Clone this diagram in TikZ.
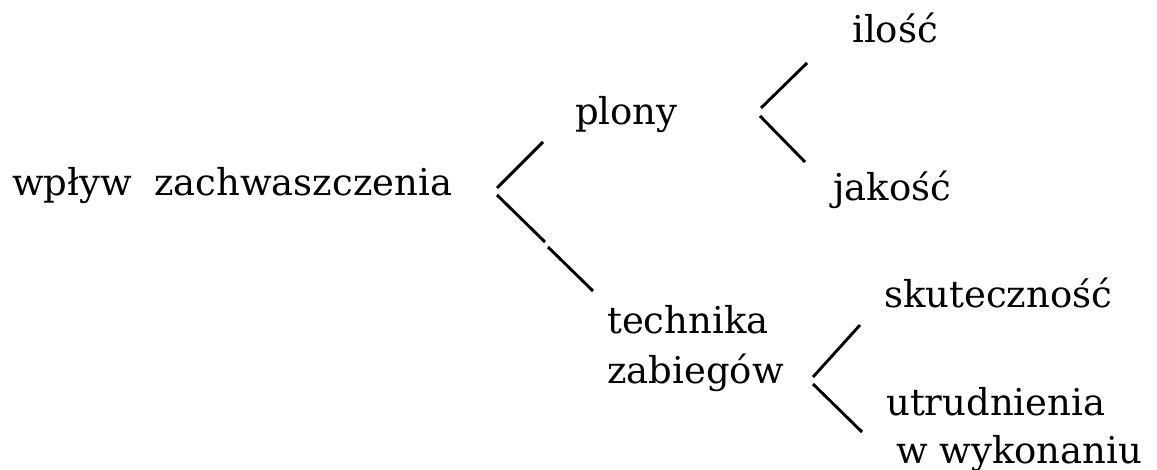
\documentclass[tikz,border=0pt]{standalone}
\usepackage{fontspec}
\setmainfont{DejaVu Serif}
\begin{document}
\begin{tikzpicture}[x=1pt, y=-1pt,
  term/.style={inner sep=0pt, anchor=base west, align=left,
    font=\fontsize{37}{50}\selectfont},
  bracket/.style={line width=2.9pt, line cap=butt}]
\useasboundingbox (0,0) rectangle (1157,470);

% labels of the tree (multi-line labels are placed by their last baseline)
\node[term] (root)  at (12,196)  {wpływ\hspace{22pt}zachwaszczenia};
\node[term] (plony) at (575,125) {plony};
\node[term] (ilosc) at (852,43)  {ilość};
\node[term] (jakosc) at (833,201) {jakość};
\node[term] (tech)  at (607,383) {technika\\zabiegów};
\node[term] (skut)  at (884,308) {skuteczność};
\node[term, font=\fontsize{37}{48}\selectfont] (utrud) at (886,463)
  {utrudnienia\\\hspace*{10pt}w wykonaniu};

% fork points and branch ends
\coordinate (r0) at (497,188);
\coordinate (r1) at (543,142);
\coordinate (r2) at (497,195);
\coordinate (r3) at (545,242);
\coordinate (r4) at (548,247);
\coordinate (r5) at (593,291);

\coordinate (p0) at (761,108);
\coordinate (p1) at (807,63);
\coordinate (p2) at (760,116);
\coordinate (p3) at (805,162);

\coordinate (t0) at (813,377);
\coordinate (t1) at (860,325);
\coordinate (t2) at (813,384);
\coordinate (t3) at (862,432);

% brackets
\draw[bracket] (r0) -- (r1);
\draw[bracket] (r2) -- (r3);
\draw[bracket] (r4) -- (r5);

\draw[bracket] (p0) -- (p1);
\draw[bracket] (p2) -- (p3);

\draw[bracket] (t0) -- (t1);
\draw[bracket] (t2) -- (t3);
\end{tikzpicture}
\end{document}
